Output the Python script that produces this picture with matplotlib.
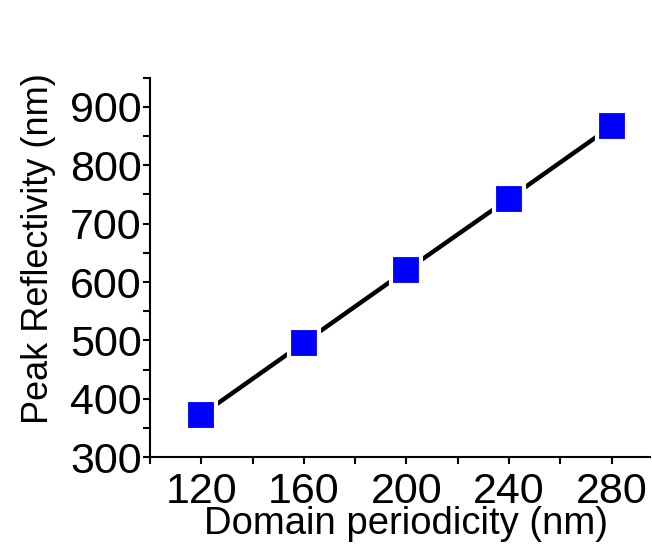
import matplotlib
matplotlib.use("Agg")
import matplotlib.pyplot as plt
from matplotlib.ticker import MultipleLocator

periodicity = [120, 160, 200, 240, 280]
peak = [372, 496, 620, 743, 867]

plt.rcParams['font.family'] = ['Liberation Sans', 'DejaVu Sans']

fig = plt.figure(figsize=(6.52, 5.48), dpi=100)
ax = fig.add_axes([0.230, 0.166, 0.767, 0.692])

ax.plot(periodicity, peak, color='black', lw=3.2, zorder=2)
ax.plot(periodicity, peak, ls='none', marker='s', ms=21, mfc='#0000ff',
        mec='white', mew=3, zorder=3)

ax.set_xlim(100, 295)
ax.set_ylim(300, 950)
ax.xaxis.set_minor_locator(MultipleLocator(20))
ax.yaxis.set_major_locator(MultipleLocator(100))
ax.yaxis.set_minor_locator(MultipleLocator(50))
ax.set_xticks([120, 160, 200, 240, 280])

for s in ['top', 'right']:
    ax.spines[s].set_visible(False)
for s in ['left', 'bottom']:
    ax.spines[s].set_linewidth(1.5)

ax.tick_params(which='both', direction='out', length=5, width=1.5)
ax.tick_params(axis='x', which='major', labelsize=31, pad=6)
ax.tick_params(axis='y', which='major', labelsize=31, pad=1)

ax.set_xlabel('Domain periodicity (nm)', fontsize=27.5)
ax.set_ylabel('Peak Reflectivity (nm)', fontsize=26)
ax.xaxis.set_label_coords(0.512, -0.13)
ax.yaxis.set_label_coords(-0.188, 0.55)

fig.savefig('out.png', dpi=100)
